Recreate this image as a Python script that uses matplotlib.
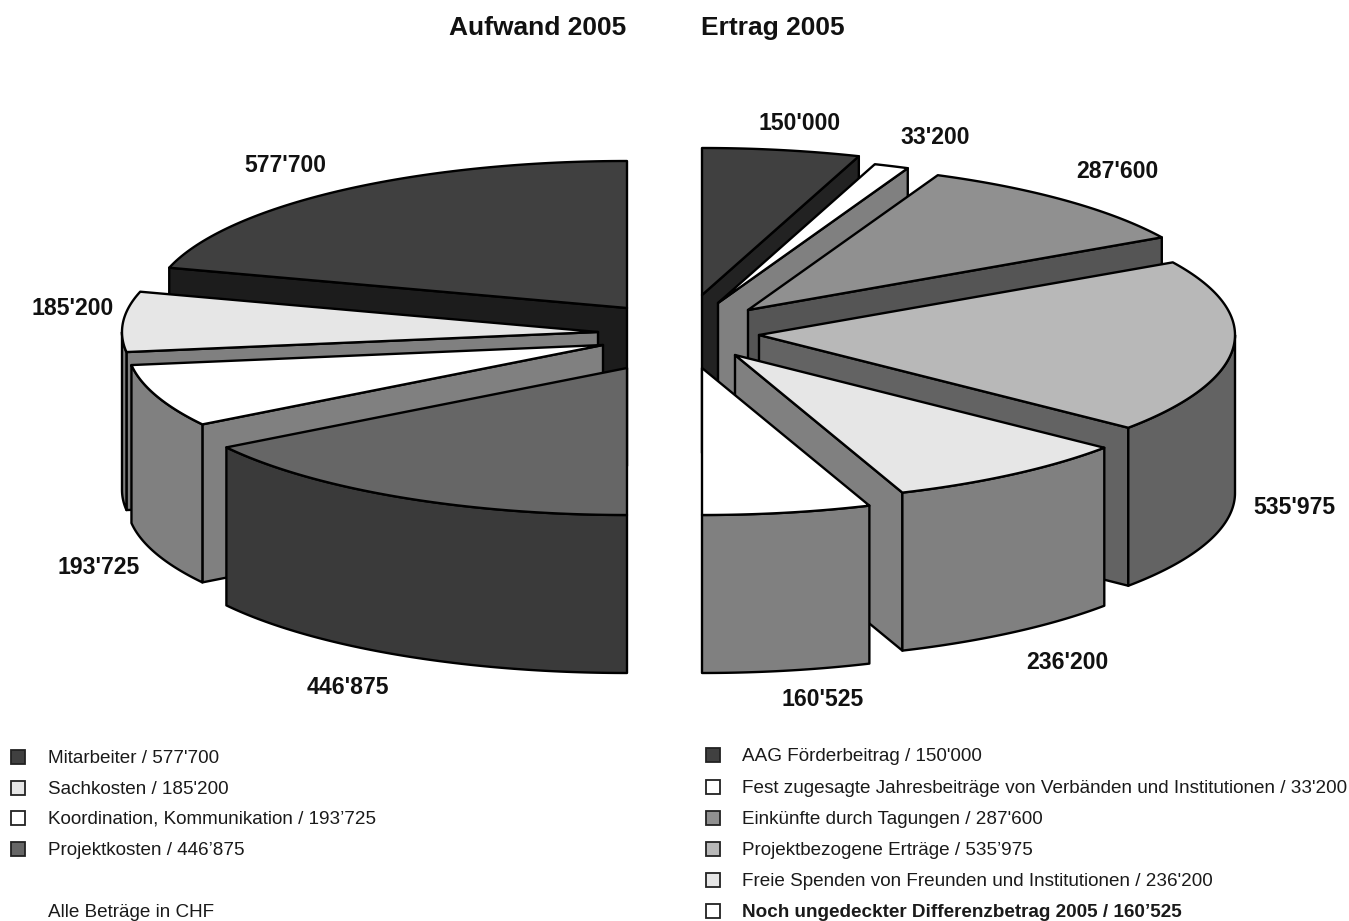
import numpy as np
import matplotlib
matplotlib.use("Agg")
import matplotlib.pyplot as plt
from matplotlib.patches import Polygon, Rectangle

plt.rcParams['font.family'] = ['Liberation Sans', 'DejaVu Sans']

# data
aufwand_values = [577700, 185200, 193725, 446875]
aufwand_labels = ["577'700", "185'200", "193'725", "446'875"]
aufwand_legend = ["Mitarbeiter / 577'700", "Sachkosten / 185'200",
                  "Koordination, Kommunikation / 193’725", "Projektkosten / 446’875"]

ertrag_values = [150000, 33200, 287600, 535975, 236200, 160525]
ertrag_labels = ["150'000", "33'200", "287'600", "535'975", "236'200", "160'525"]
ertrag_legend = ["AAG Förderbeitrag / 150'000",
                 "Fest zugesagte Jahresbeiträge von Verbänden und Institutionen / 33'200",
                 "Einkünfte durch Tagungen / 287'600",
                 "Projektbezogene Erträge / 535’975",
                 "Freie Spenden von Freunden und Institutionen / 236'200",
                 "Noch ungedeckter Differenzbetrag 2005 / 160’525"]

# colours: top face, radial wall, outer wall
aufwand_top = ["#404040", "#e6e6e6", "#ffffff", "#666666"]
aufwand_side = ["#1c1c1c", "#808080", "#808080", "#666666"]
aufwand_outer = ["#1c1c1c", "#808080", "#808080", "#3a3a3a"]
ertrag_top = ["#404040", "#ffffff", "#909090", "#b8b8b8", "#e6e6e6", "#ffffff"]
ertrag_side = ["#222222", "#808080", "#555555", "#636363", "#808080", "#808080"]
ertrag_outer = ["#222222", "#808080", "#555555", "#636363", "#808080", "#808080"]

# layout in pixels
aufwand_tips = [(627, 308), (598, 332), (603, 345), (627, 368)]
ertrag_tips = [(702, 295), (718, 303), (748, 310), (759, 335), (735, 355), (702, 368)]
aufwand_label_pos = [(285, 165), (73, 308), (99, 567), (348, 687)]
ertrag_label_pos = [(800, 123), (935, 138), (1117, 172), (1294, 507), (1067, 662), (823, 699)]
RX = 476
RY = 147
DEPTH = 158
LW = 1.7
INK = "#111111"
LEGEND_SIZE = 13.6


def arc(tip, a, b, side):
    # a, b in degrees, measured from the top of the half pie
    t = np.radians(np.linspace(a, b, 80))
    return np.column_stack([tip[0] + side * RX * np.sin(t), tip[1] - RY * np.cos(t)])


def draw_half(ax, values, tips, side, top, wall, outer):
    total = sum(values)
    start = 0.0
    for i, v in enumerate(values):
        end = start + v / total * 180.0
        tip = np.array(tips[i], dtype=float)
        drop = np.array([0, DEPTH])

        # flat wall along the lower edge of the slice
        corner = arc(tip, end, end, side)[0]
        if end < 179.9:
            ax.add_patch(Polygon([tip, corner, corner + drop, tip + drop], closed=True,
                                 fc=wall[i], ec="black", lw=LW, joinstyle="round"))

        # curved outer wall, only the part facing the viewer
        if end > 90:
            pts = arc(tip, max(start, 90), end, side)
            ax.add_patch(Polygon(np.vstack([pts, pts[::-1] + drop]), closed=True,
                                 fc=outer[i], ec="black", lw=LW, joinstyle="round"))

        ax.add_patch(Polygon(np.vstack([[tip], arc(tip, start, end, side)]), closed=True,
                             fc=top[i], ec="black", lw=LW, joinstyle="round"))
        start = end


def draw_legend(ax, rows, names, colors, box_x, text_x):
    for y, name, c in zip(rows, names, colors):
        ax.add_patch(Rectangle((box_x, y - 7), 14, 14, fc=c, ec="#222222", lw=1.3))
        weight = "bold" if name.startswith("Noch") else "normal"
        ax.text(text_x, y + 1, name, fontsize=LEGEND_SIZE, color="#1a1a1a", va="center",
                ha="left", fontweight=weight)


fig = plt.figure(figsize=(13.49, 9.21), dpi=100)
ax = fig.add_axes([0, 0, 1, 1])
ax.set_xlim(0, 1349)
ax.set_ylim(921, 0)
ax.axis("off")

draw_half(ax, aufwand_values, aufwand_tips, -1, aufwand_top, aufwand_side, aufwand_outer)
draw_half(ax, ertrag_values, ertrag_tips, 1, ertrag_top, ertrag_side, ertrag_outer)

ax.text(538, 28, "Aufwand 2005", fontsize=19, fontweight="bold", color=INK, ha="center", va="center")
ax.text(773, 28, "Ertrag 2005", fontsize=19, fontweight="bold", color=INK, ha="center", va="center")

for (x, y), s in zip(aufwand_label_pos + ertrag_label_pos, aufwand_labels + ertrag_labels):
    ax.text(x, y, s, fontsize=16.6, fontweight="bold", color=INK, ha="center", va="center")

draw_legend(ax, [757, 788, 818, 849], aufwand_legend, aufwand_top, 11, 48)
ax.text(48, 912, "Alle Beträge in CHF", fontsize=LEGEND_SIZE, color="#1a1a1a", va="center", ha="left")
draw_legend(ax, [755, 787, 818, 849, 880, 911], ertrag_legend, ertrag_top, 706, 742)

fig.savefig("out.png", dpi=100, facecolor="white")
